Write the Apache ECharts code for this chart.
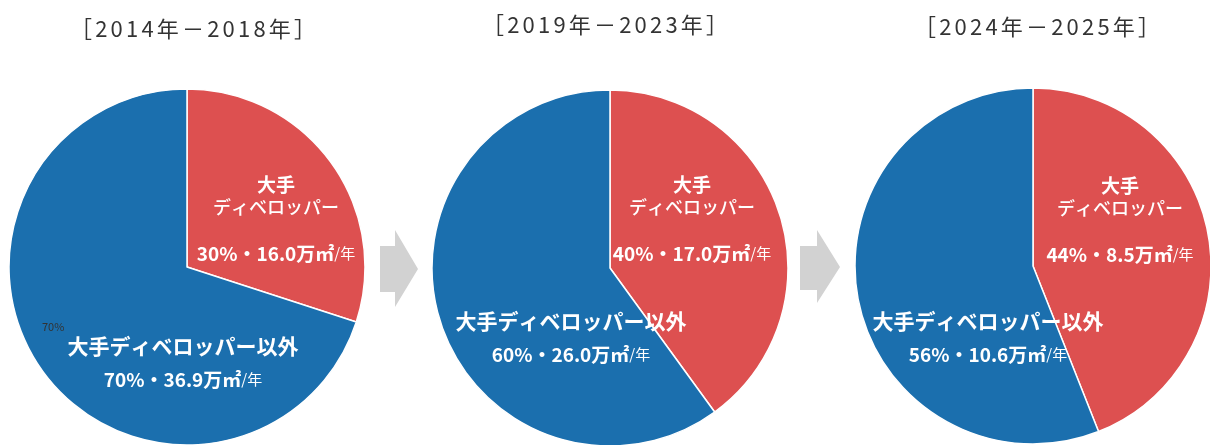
<!DOCTYPE html>
<html>
<head>
<meta charset="utf-8">
<script src="https://cdn.jsdelivr.net/npm/echarts@6/dist/echarts.min.js"></script>
<style>
html,body{margin:0;padding:0;background:#fff;}
#c{width:1210px;height:445px;}
</style>
</head>
<body>
<div id="c"></div>
<script>
// ---- data ----
const periods = ['2014年－2018年', '2019年－2023年', '2024年－2025年'];
const categories = ['大手ディベロッパー', '大手ディベロッパー以外'];
const majorShare = [30, 40, 44];
const otherShare = [70, 60, 56];
const majorVolume = [16.0, 17.0, 8.5];
const otherVolume = [36.9, 26.0, 10.6];

// ---- layout ----
const centers = [[187, 267], [610, 268], [1033, 266]];
const radius = 178;
const titleX = [188, 600, 1032];
const titleY = [13, 9, 11];
const majorLabelPos = [[276, 219], [692, 219], [1120, 220]];
const otherLabelPos = [[183, 363], [571, 338], [988, 338]];

const RED = '#dd5050';
const BLUE = '#1b6fae';
const FONT = '"Noto Sans CJK JP", "Noto Sans", sans-serif';

const rich = {
  n: { color: '#fff', fontFamily: FONT, fontSize: 19, fontWeight: 'bold', lineHeight: 23 },
  k: { color: '#fff', fontFamily: FONT, fontSize: 18, fontWeight: 500, lineHeight: 23 },
  o: { color: '#fff', fontFamily: FONT, fontSize: 21, fontWeight: 'bold', lineHeight: 33 },
  p: { color: '#fff', fontFamily: FONT, fontSize: 19, fontWeight: 'bold', lineHeight: 23 },
  po: { color: '#fff', fontFamily: FONT, fontSize: 19, fontWeight: 'bold', lineHeight: 33 },
  u: { color: '#fff', fontFamily: FONT, fontSize: 15, fontWeight: 'normal', lineHeight: 23 },
  uo: { color: '#fff', fontFamily: FONT, fontSize: 15, fontWeight: 'normal', lineHeight: 33 }
};

function majorText(i) {
  return '{n|大手}\n{k|ディベロッパー}\n{p|}\n{p|' + majorShare[i] + '%・' + majorVolume[i].toFixed(1) + '万㎡}{u|/年}';
}
function otherText(i) {
  return '{o|' + categories[1] + '}\n{po|' + otherShare[i] + '%・' + otherVolume[i].toFixed(1) + '万㎡}{uo|/年}';
}

const series = periods.map((p, i) => ({
  type: 'pie',
  center: centers[i],
  radius: radius,
  startAngle: 90,
  clockwise: true,
  silent: true,
  animation: false,
  itemStyle: { borderColor: '#fff', borderWidth: 1.5 },
  label: {
    show: true,
    position: 'inside',
    align: 'center',
    verticalAlign: 'middle',
    rich: rich,
    formatter: (params) => params.dataIndex === 0 ? majorText(i) : otherText(i)
  },
  labelLine: { show: false },
  labelLayout: (params) => {
    const pos = params.dataIndex === 0 ? majorLabelPos[i] : otherLabelPos[i];
    return { x: pos[0], y: pos[1], align: 'center', verticalAlign: 'middle' };
  },
  emphasis: { disabled: true },
  data: [
    { name: categories[0], value: majorShare[i], itemStyle: { color: RED } },
    { name: categories[1], value: otherShare[i], itemStyle: { color: BLUE } }
  ]
}));

// title text with slight letter spacing (each character in its own padded rich box)
function spaced(s) {
  return Array.from(s).map(ch => '{c|' + ch + '}').join('');
}
const titles = periods.map((p, i) => ({
  text: spaced('［' + p + '］'),
  left: titleX[i],
  top: titleY[i],
  textAlign: 'center',
  textStyle: {
    fontFamily: FONT, fontSize: 22, fontWeight: 'normal', color: '#333',
    rich: { c: { fontFamily: FONT, fontSize: 22, color: '#333', padding: [0, 1.6, 0, 1.6] } }
  }
}));

function arrow(x0, xm, x1, yTop, yBot, yRt, yRb, yMid) {
  return {
    type: 'polygon',
    silent: true,
    shape: { points: [[x0, yRt], [xm, yRt], [xm, yTop], [x1, yMid], [xm, yBot], [xm, yRb], [x0, yRb]] },
    style: { fill: '#d2d2d2' }
  };
}

const chart = echarts.init(document.getElementById('c'), null, { renderer: 'canvas' });
chart.setOption({
  backgroundColor: '#fff',
  animation: false,
  title: titles,
  series: series,
  graphic: [
    arrow(380, 395, 418, 230, 307, 246, 292, 269),
    arrow(800, 817, 840, 230, 303, 246, 290, 267),
    {
      type: 'text', silent: true, left: 42, top: 321, z: 100,
      style: { text: otherShare[0] + '%', fill: '#333', fontSize: 11, fontFamily: FONT }
    }
  ]
});
</script>
</body>
</html>
